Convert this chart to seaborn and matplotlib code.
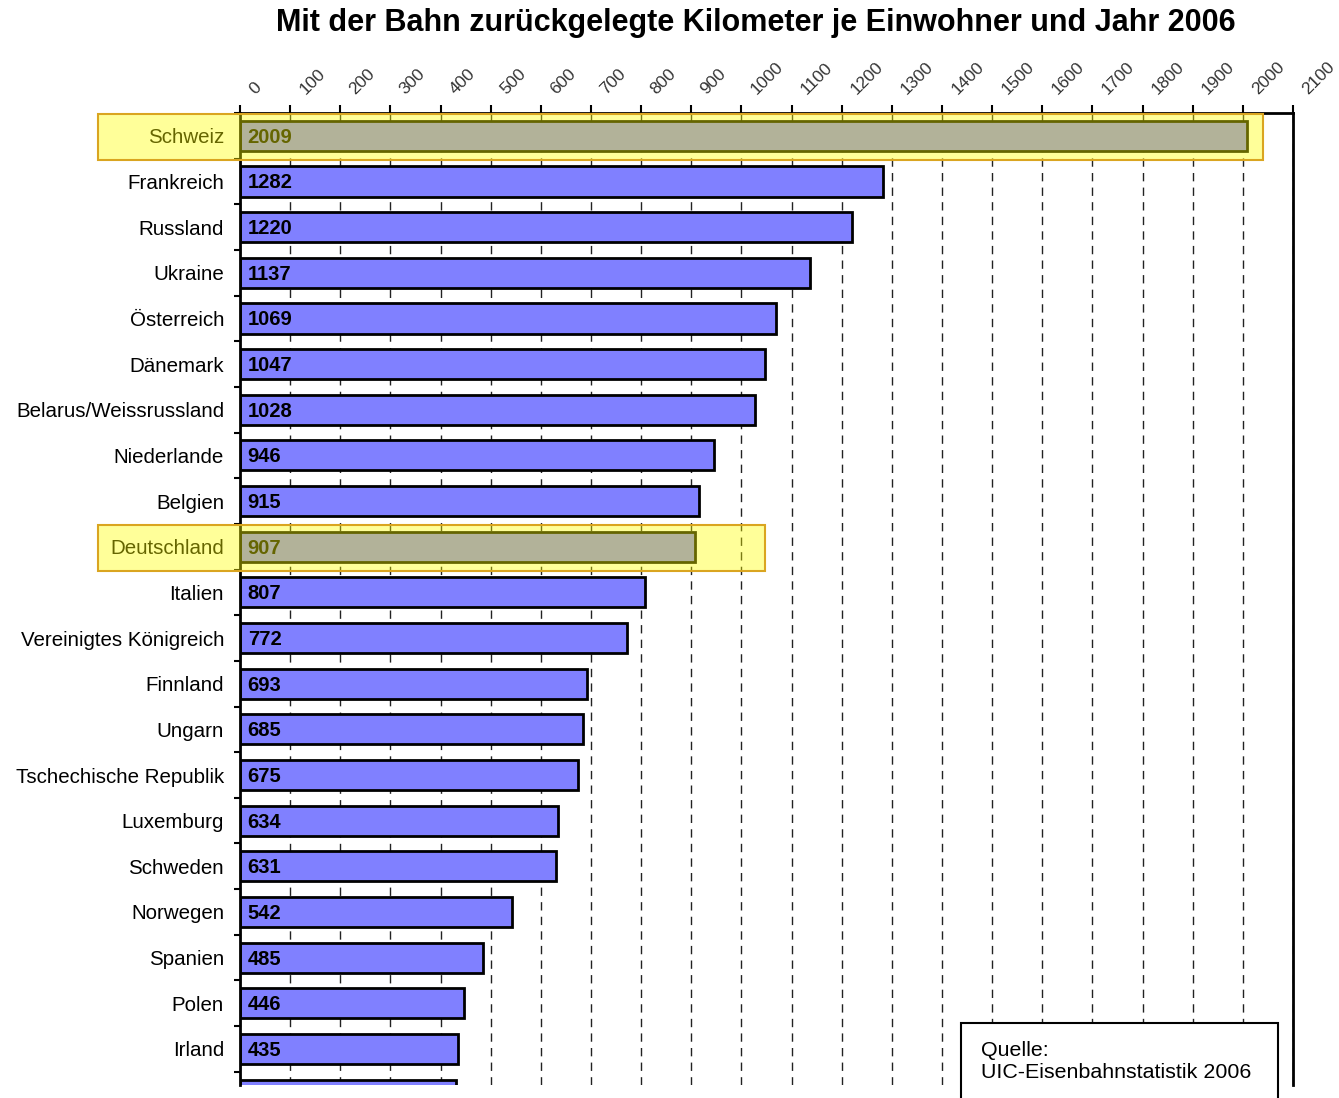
import numpy as np
import pandas as pd
import seaborn as sns
import matplotlib as mpl
mpl.use('Agg')
import matplotlib.pyplot as plt
from matplotlib.patches import Rectangle
from matplotlib.transforms import ScaledTranslation

# Daten
laender = ['Schweiz', 'Frankreich', 'Russland', 'Ukraine', 'Österreich', 'Dänemark',
           'Belarus/Weissrussland', 'Niederlande', 'Belgien', 'Deutschland', 'Italien',
           'Vereinigtes Königreich', 'Finnland', 'Ungarn', 'Tschechische Republik',
           'Luxemburg', 'Schweden', 'Norwegen', 'Spanien', 'Polen', 'Irland', 'Portugal']
km = [2009, 1282, 1220, 1137, 1069, 1047, 1028, 946, 915, 907, 807, 772, 693, 685,
      675, 634, 631, 542, 485, 446, 435, 430]
x_ticks = list(range(0, 2200, 100))

markiert = ['Schweiz', 'Deutschland']
markiert_rechts = [2040, 1047]   # rechter Rand der gelben Markierung

titel = 'Mit der Bahn zurückgelegte Kilometer je Einwohner und Jahr 2006'
quelle = 'Quelle:\nUIC-Eisenbahnstatistik 2006'

sns.set_style('white')
plt.rcParams['font.family'] = ['Liberation Sans', 'DejaVu Sans']
plt.rcParams['text.color'] = 'black'
plt.rcParams['xtick.color'] = 'black'
plt.rcParams['ytick.color'] = 'black'

df = pd.DataFrame({'land': laender, 'km': km})

W, H = 1339, 1098
fig = plt.figure(figsize=(W / 100, H / 100), dpi=100)
ax = fig.add_axes([240 / W, 13 / H, 1053 / W, 972 / H])

sns.barplot(data=df, x='km', y='land', orient='h', color='#8080FF', saturation=1,
            edgecolor='black', linewidth=2, width=0.66, ax=ax)

ax.set_xlim(0, 2100)
ax.set_ylim(20.79, -0.5)
ax.set_xlabel('')
ax.set_ylabel('')

# x-Achse oben
ax.xaxis.tick_top()
ax.set_xticks(x_ticks)
ax.set_xticklabels([str(t) for t in x_ticks], rotation=45, rotation_mode='anchor',
                   ha='left', va='center')
ax.tick_params(axis='x', which='major', direction='out', length=6, width=1.5,
               pad=9, labelsize=12.5, labelcolor='#333333', top=True, bottom=False)
for lab in ax.get_xticklabels():
    lab.set_transform(lab.get_transform() + ScaledTranslation(12 / 100, 0, fig.dpi_scale_trans))

# y-Achse
ax.set_yticks(range(21), laender[:21])
ax.tick_params(axis='y', which='major', length=0, pad=11.5, labelsize=14.8)
ax.set_yticks(np.arange(-0.5, 21, 1), minor=True)
ax.tick_params(axis='y', which='minor', direction='out', length=4, width=1.5, left=True)

for s in ['top', 'left', 'right']:
    ax.spines[s].set_color('black')
    ax.spines[s].set_linewidth(2)
ax.spines['bottom'].set_visible(False)

ax.grid(True, axis='x', which='major', color='#222222', linestyle=(0, (6, 4.5)), linewidth=1)
ax.grid(False, axis='y')
ax.set_axisbelow(True)

# Werte in den Balken
for i, v in enumerate(km):
    ax.annotate(str(v), (0, i), xytext=(5.5, -1), textcoords='offset points',
                ha='left', va='center', fontsize=14.5, fontweight='bold', color='black')

# gelbe Markierungen
for land, rechts in zip(markiert, markiert_rechts):
    i = laender.index(land)
    ax.add_patch(Rectangle((-283, i - 0.47), rechts + 283, 1.0, facecolor=(1, 1, 0, 0.4),
                           edgecolor='#DAA520', linewidth=1.5, zorder=5, clip_on=False))

fig.text(756 / W, 1 - 23 / H, titel, ha='center', va='center', fontsize=22, fontweight='bold')

fig.add_artist(Rectangle((961 / W, -0.05), (1278 - 961) / W, 0.05 + 75 / H,
                         transform=fig.transFigure, facecolor='white',
                         edgecolor='black', linewidth=1.5))
fig.text(981 / W, 1 - 1061 / H, quelle, ha='left', va='center', fontsize=15.4, linespacing=1.2)

fig.savefig('out.png', dpi=100)
